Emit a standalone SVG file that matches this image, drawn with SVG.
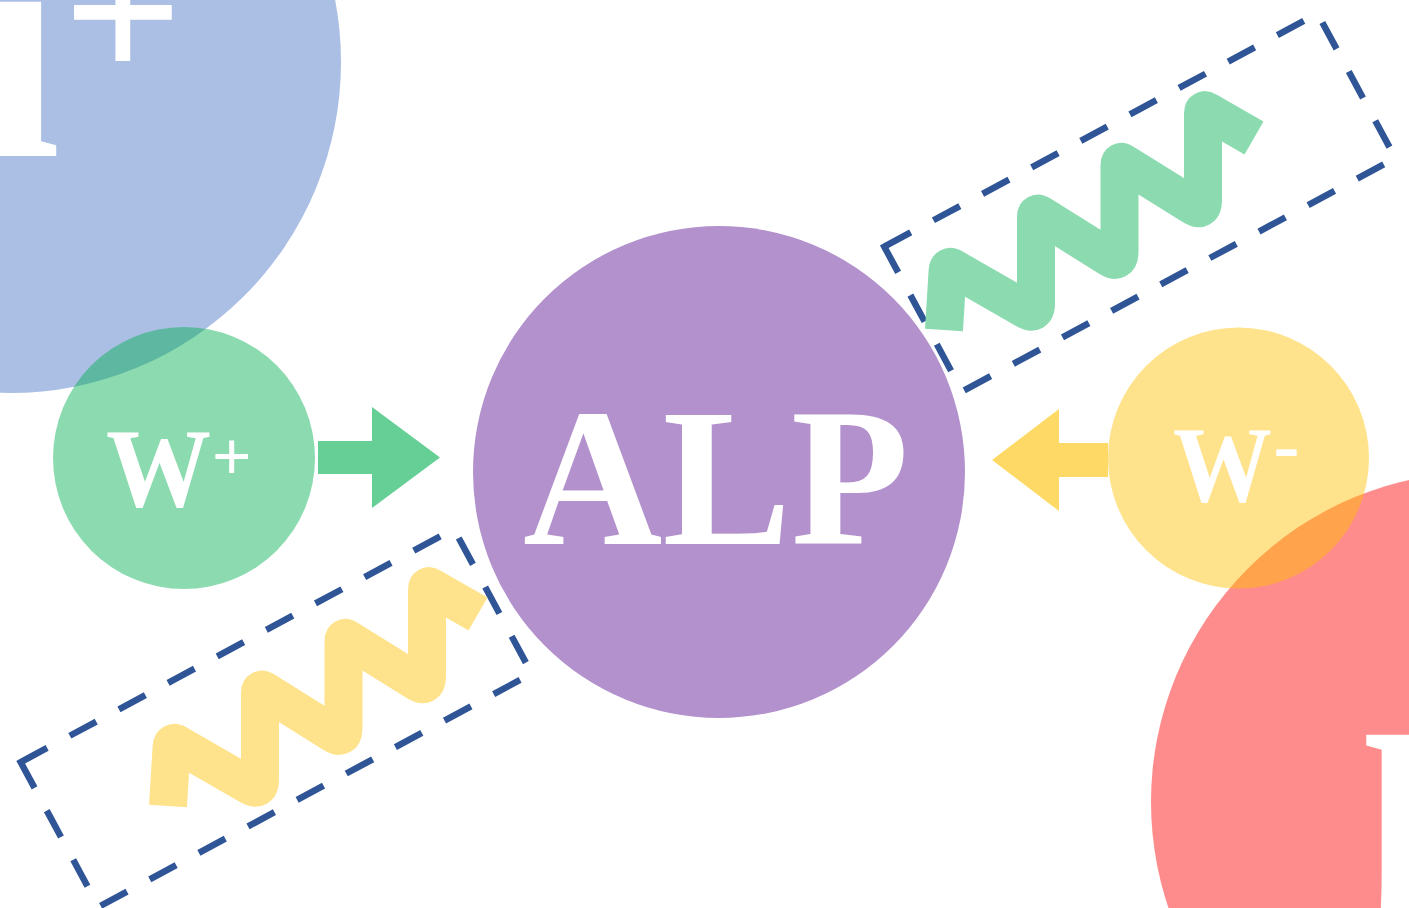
<svg xmlns="http://www.w3.org/2000/svg" width="1409" height="908" viewBox="0 0 1409 908">
<defs>
<style>
.lbl{font-family:"Liberation Serif","Times New Roman",serif;font-weight:bold;fill:#ffffff}
.box{fill:none;stroke:#2f5597;stroke-dasharray:30 25.8}
.wave{fill:none;stroke-linejoin:round;stroke-linecap:butt}
</style>
<path id="wavePath" d="M168,806 L171.6,747 Q172,741 177.2,744 L249.5,785.6 Q260,791.7 260,779.6 L260,693 Q260,688 264.3,690.6 L333.2,733.6 Q343.5,740 343.5,728 L343.5,641.3 Q343.5,636.3 347.8,638.9 L416.7,681.9 Q427,688.3 427,676.3 L427,589.6 Q427,584.6 431.3,587.1 L478,614"/>
</defs>
<rect x="0" y="0" width="1409" height="908" fill="#ffffff"/>
<g id="mu-plus">
<circle cx="10" cy="62" r="331" fill="#4472c4" fill-opacity="0.45"/>
<text class="lbl" x="-130" y="156" font-size="336">μ</text>
<text class="lbl" x="63" y="82" font-size="210">+</text>
</g>
<g id="mu-minus">
<circle cx="1481" cy="802" r="330" fill="#ff0000" fill-opacity="0.45"/>
<text class="lbl" x="1362" y="889" font-size="336">μ</text>
</g>
<g id="w-plus">
<circle cx="184" cy="458" r="131" fill="#00b050" fill-opacity="0.45"/>
<text class="lbl" x="106" y="506" font-size="112" textLength="105" lengthAdjust="spacingAndGlyphs">W</text>
<text class="lbl" x="211.7" y="480" font-size="70">+</text>
</g>
<g id="w-minus">
<circle cx="1238.5" cy="458" r="130.5" fill="#ffc000" fill-opacity="0.45"/>
<text class="lbl" x="1173" y="501" font-size="107" textLength="99" lengthAdjust="spacingAndGlyphs">W</text>
<text class="lbl" x="1273.6" y="471" font-size="78">-</text>
</g>
<g id="alp">
<circle cx="719" cy="472" r="246" fill="#b391cc"/>
<text class="lbl" x="523" y="544" font-size="198" textLength="386" lengthAdjust="spacingAndGlyphs">ALP</text>
</g>
<g id="connectors">
<path d="M318,441 H372 V407 L440,457.5 L372,508 V474 H318 Z" fill="#66cf96"/>
<path d="M1108,443 H1059 V409 L992,460 L1059,511 V477 H1108 Z" fill="#ffd966"/>
</g>
<g id="boson-lower">
<rect class="box" stroke-width="6.5" x="0" y="0" width="492" height="164.3" transform="translate(20.7,762.2) rotate(-28.3)"/>
<use href="#wavePath" class="wave" stroke="#ffe38c" stroke-width="38"/>
</g>
<g id="boson-upper">
<rect class="box" stroke-width="6.5" x="0" y="0" width="492" height="164.3" transform="translate(884.3,246.7) rotate(-28.3)"/>
<use href="#wavePath" class="wave" stroke="#8cdbb0" stroke-width="38" transform="translate(776,-476)"/>
</g>
</svg>
